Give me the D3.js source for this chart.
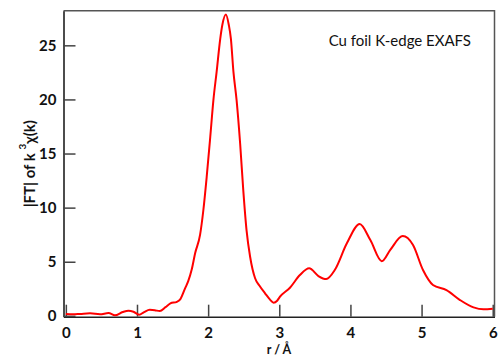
<!DOCTYPE html>
<html>
<head>
<meta charset="utf-8">
<script src="https://cdn.jsdelivr.net/npm/d3@7"></script>
<style>
  html, body { margin: 0; padding: 0; background: #fff; }
  svg { display: block; }
</style>
</head>
<body>
<svg id="chart" width="499" height="357"></svg>
<script>
// Fourier-transform magnitude of the Cu foil k^3-weighted EXAFS signal
const rValues = [
  0.00, 0.10, 0.20, 0.34, 0.48, 0.60, 0.69, 0.80, 0.88, 0.95,
  1.03, 1.10, 1.18, 1.25, 1.32, 1.40, 1.47, 1.56, 1.61, 1.676,
  1.72, 1.77, 1.817, 1.887, 1.933, 1.98, 2.03, 2.074, 2.12, 2.17,
  2.20, 2.25, 2.29, 2.32, 2.355, 2.40, 2.45, 2.494, 2.54, 2.59,
  2.66, 2.72, 2.80, 2.87, 2.92, 2.97, 3.01, 3.15, 3.29, 3.42,
  3.55, 3.66, 3.78, 3.95, 4.13, 4.28, 4.44, 4.56, 4.735, 4.88,
  5.02, 5.16, 5.35, 5.54, 5.73, 5.87, 6.00
];
const ftValues = [
  0.17, 0.15, 0.18, 0.23, 0.14, 0.26, 0.05, 0.35, 0.47, 0.38,
  0.10, 0.35, 0.56, 0.52, 0.44, 0.80, 1.15, 1.30, 1.55, 2.54,
  3.20, 4.30, 5.78, 7.50, 9.78, 12.86, 16.55, 19.94, 22.60, 25.60,
  26.90, 27.85, 26.90, 25.60, 22.60, 19.94, 15.90, 11.60, 7.90, 5.46,
  3.47, 2.80, 2.08, 1.50, 1.22, 1.40, 1.77, 2.60, 3.77, 4.39,
  3.68, 3.40, 4.23, 6.70, 8.48, 7.00, 5.05, 6.10, 7.37, 6.54,
  4.23, 2.85, 2.38, 1.46, 0.78, 0.60, 0.66
];
const xTicks = [0, 1, 2, 3, 4, 5, 6];
const yTicks = [0, 5, 10, 15, 20, 25];

const svg = d3.select("#chart");
const font = "Lato, 'Open Sans', sans-serif";

const x = d3.scaleLinear().domain([-0.033, 6.025]).range([63.5, 494.5]);
const y = d3.scaleLinear().domain([-0.08, 28.2]).range([316.7, 10.7]);

const [x0, x1] = x.range();
const [y0, y1] = y.range();

// frame: right and top edges
svg.append("path")
  .attr("d", `M${x0},${y1}H${x1}V${y0}`)
  .attr("fill", "none")
  .attr("stroke", "#555")
  .attr("stroke-width", 1.5);

// bottom axis with inward ticks
const xAxis = svg.append("g")
  .attr("transform", `translate(0,${y0})`)
  .call(d3.axisBottom(x).tickValues(xTicks).tickSizeInner(-12).tickSizeOuter(0).tickPadding(10)
    .tickFormat(d3.format("d")));
xAxis.select(".domain").attr("stroke", "#222").attr("stroke-width", 1.5);
xAxis.selectAll(".tick line").attr("stroke", "#444").attr("stroke-width", 1.5);
xAxis.selectAll(".tick text")
  .attr("y", 11).attr("dy", "0.71em")
  .style("font-family", font).style("font-size", "15px").style("font-weight", "bold").attr("fill", "#111");

// left axis with inward ticks
const yAxis = svg.append("g")
  .attr("transform", `translate(${x0},0)`)
  .call(d3.axisLeft(y).tickValues(yTicks).tickSizeInner(-12).tickSizeOuter(0).tickPadding(7)
    .tickFormat(d3.format("d")));
yAxis.select(".domain").attr("stroke", "#111").attr("stroke-width", 1.5);
yAxis.selectAll(".tick line").attr("stroke", "#444").attr("stroke-width", 1.5);
yAxis.selectAll(".tick text")
  .attr("x", -7)
  .style("font-family", font).style("font-size", "15px").style("font-weight", "bold").attr("fill", "#111");

// curve
const points = rValues.map((r, i) => [r, ftValues[i]]);
svg.append("path")
  .datum(points)
  .attr("fill", "none")
  .attr("stroke", "#ff0000")
  .attr("stroke-width", 2)
  .attr("stroke-linejoin", "round")
  .attr("d", d3.line().x(d => x(d[0])).y(d => y(d[1])).curve(d3.curveMonotoneX));

// title inside the frame
svg.append("text")
  .attr("x", 471).attr("y", 46)
  .attr("text-anchor", "end")
  .style("font-family", font).style("font-size", "15px")
  .attr("fill", "#111")
  .text("Cu foil K-edge EXAFS");

// x-axis title
svg.append("text")
  .attr("x", (x0 + x1) / 2).attr("y", 354.3)
  .attr("text-anchor", "middle")
  .style("font-family", font).style("font-size", "12.5px").style("font-weight", "bold")
  .attr("fill", "#111")
  .text("r / Å");

// y-axis title
const yTitle = svg.append("text")
  .attr("transform", `translate(35,${(y0 + y1) / 2}) rotate(-90)`)
  .attr("text-anchor", "middle")
  .style("font-family", font).style("font-size", "15px").style("font-weight", "bold")
  .attr("fill", "#111");
yTitle.append("tspan").text("|FT| of k ");
yTitle.append("tspan").attr("dy", -9).style("font-size", "10px").text("3");
yTitle.append("tspan").attr("dy", 9).text("χ(k)");
</script>
</body>
</html>
